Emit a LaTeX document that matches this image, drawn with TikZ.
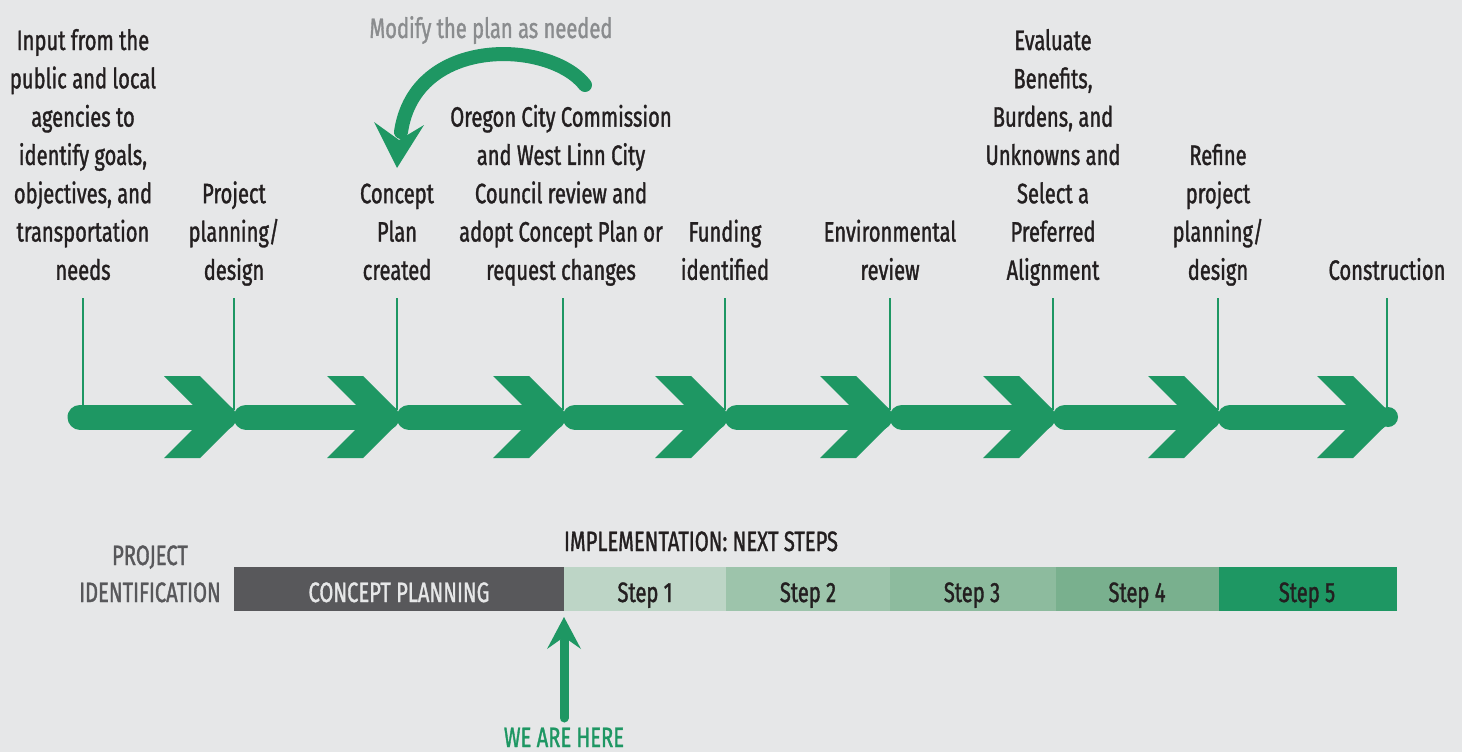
\documentclass[tikz,border=0pt]{standalone}
\usepackage{fontspec}
\setmainfont{Fira Sans}[FakeStretch=0.72, FakeBold=1.2]
\definecolor{gr}{RGB}{30,151,99}
\definecolor{bg}{RGB}{230,231,232}
\definecolor{txt}{RGB}{35,31,32}
\definecolor{graytxt}{RGB}{138,140,142}
\definecolor{darkbar}{RGB}{88,88,91}
\definecolor{s1}{RGB}{189,213,198}
\definecolor{s2}{RGB}{157,196,171}
\definecolor{s3}{RGB}{141,187,158}
\definecolor{s4}{RGB}{121,176,142}
\definecolor{s5}{RGB}{30,151,99}
\begin{document}
\begin{tikzpicture}[x=1pt,y=-1pt,
  lbl/.style={font=\fontsize{28}{38.3}\selectfont, align=center, anchor=south, inner sep=0pt, text=txt},
  one/.style={font=\fontsize{28}{37}\selectfont, inner sep=0pt, anchor=base},
  barseg/.style={inner sep=0pt, minimum height=44pt},
  tick/.style={draw=gr, line width=1.5pt},
  seg/.style={draw=gr, line width=25pt, line cap=round}]
\fill[bg] (0,0) rectangle (1462,752);
\useasboundingbox (0,0) rectangle (1462,752);

% labels
\node[lbl] (l1) at (83,291.5) {Input from the\\public and local\\agencies to\\identify goals,\\objectives, and\\transportation\\needs\strut};
\node[lbl] (l2) at (234,291.5) {Project\\planning/\\design\strut};
\node[lbl] (l3) at (397,291.5) {Concept\\Plan\\created\strut};
\node[lbl] (l4) at (561,291.5) {Oregon City Commission\\and West Linn City\\Council review and\\adopt Concept Plan or\\request changes\strut};
\node[lbl] (l5) at (725,291.5) {Funding\\identified\strut};
\node[lbl] (l6) at (890,291.5) {Environmental\\review\strut};
\node[lbl] (l7) at (1053,291.5) {Evaluate\\Benefits,\\Burdens, and\\Unknowns and\\Select a\\Preferred\\Alignment\strut};
\node[lbl] (l8) at (1218,291.5) {Refine\\project\\planning/\\design\strut};
\node[lbl] (l9) at (1387,291.5) {Construction\strut};

% ticks
\foreach \i/\X in {1/83,2/234,3/397,4/563,5/725,6/890,7/1053,8/1218,9/1387}{
  \coordinate (t\i) at (\X,298);
  \coordinate (b\i) at (\X,410);
  \draw[tick] (t\i) -- (b\i);
}

% bar segments
\draw[seg] (80,417) -- (224,417);
\foreach \a/\b in {234/397,397/563,563/725,725/890,890/1053,1053/1218,1218/1387}{
  \draw[seg] (\a+12,417) -- (\b-10,417);
}
% chevrons
\foreach \X in {234,397,563,725,890,1053,1218,1387}{
  \fill[gr, shift={(\X,417)}] (-70,-41) -- (-34,-41) -- (0,-7) -- (0,7) -- (-34,41) -- (-70,41) -- (-29,0) -- cycle;
}
\fill[gr] (1388,417) circle (10);

% modify arrow
\node[one, text=graytxt] (mod) at (491,38) {Modify the plan as needed};
\coordinate (cs) at (585,85);
\coordinate (ce) at (401,132);
\draw[gr, line width=14pt, line cap=round] (cs) .. controls (550,40) and (415,35) .. (ce);
\fill[gr] (397,168) -- (374,122) -- (399,140) -- (424,125) -- cycle;

% bottom
\node[one, text=darkbar] (pi) at (150,565) {PROJECT};
\node[one, text=darkbar] (pi2) at (150,602) {IDENTIFICATION};
\node[one, text=txt] (impl) at (701,551) {IMPLEMENTATION: NEXT STEPS};

\node[barseg, fill=darkbar, minimum width=330pt] (cp) at (399,589) {};
\node[barseg, fill=s1, minimum width=162pt] (st1) at (645,589) {};
\node[barseg, fill=s2, minimum width=164pt] (st2) at (808,589) {};
\node[barseg, fill=s3, minimum width=166pt] (st3) at (973,589) {};
\node[barseg, fill=s4, minimum width=163pt] (st4) at (1137.5,589) {};
\node[barseg, fill=s5, minimum width=178pt] (st5) at (1308,589) {};
\node[one, text=bg] (cpt) at (399,602) {CONCEPT PLANNING};
\node[one, text=txt] (st1t) at (645,602) {Step 1};
\node[one, text=txt] (st2t) at (808,602) {Step 2};
\node[one, text=txt] (st3t) at (972,602) {Step 3};
\node[one, text=txt] (st4t) at (1137,602) {Step 4};
\node[one, text=txt] (st5t) at (1307,602) {Step 5};

% we are here
\node[one, text=gr] (wah) at (564,747) {WE ARE HERE};
\coordinate (ws) at (564,718);
\coordinate (we) at (564,640);
\draw[gr, line width=9pt, line cap=round] (ws) -- (we);
\fill[gr] (564,617) -- (581,649) -- (564,637) -- (547,649) -- cycle;
\end{tikzpicture}
\end{document}
